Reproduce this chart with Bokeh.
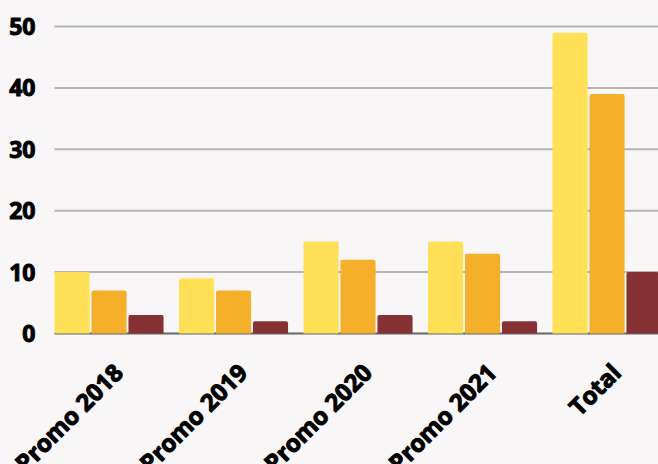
from math import pi
import numpy as np
from bokeh.plotting import figure
from bokeh.models import ColumnDataSource, Range1d
from bokeh.core.properties import value
from bokeh.embed import file_html
from bokeh.resources import INLINE

categories = ["Promo 2018", "Promo 2019", "Promo 2020", "Promo 2021", "Total"]
series_a = [10, 9, 15, 15, 49]
series_b = [7, 7, 12, 13, 39]
series_c = [3, 2, 3, 2, 10]
y_ticks = [0, 10, 20, 30, 40, 50]

BG = "#f8f6f7"
FONT = "Open Sans"
colors = ["#ffe056", "#f5b02b", "#863234"]

# layout constants (units: one category = 1)
BAR_W = 0.282
OFFS = [-0.297, 0.0, 0.297]
centers = np.arange(len(categories)) + 0.5
chart_left = centers[0] + OFFS[0] - BAR_W / 2      # where grid lines start
PX_PER_X = 124.5
PX_PER_Y = 6.14
W, H = 658, 464
LEFT_PX, TOP_PX = 54, 26
x_start = chart_left - LEFT_PX / PX_PER_X
x_end = x_start + W / PX_PER_X
y_end = y_ticks[-1] + TOP_PX / PX_PER_Y
y_start = y_end - H / PX_PER_Y

p = figure(
    x_range=Range1d(x_start, x_end), y_range=Range1d(y_start, y_end),
    width=W, height=H,
    output_backend="svg", toolbar_location=None,
    background_fill_color=BG, border_fill_color=BG,
    min_border=0, outline_line_color=None,
)
p.axis.visible = False
p.grid.visible = False

# grid lines
grid = ColumnDataSource(dict(y=y_ticks, label=[str(t) for t in y_ticks],
                             x0=[chart_left] * len(y_ticks), x1=[x_end] * len(y_ticks),
                             color=["#666666"] + ["#b4b4b4"] * (len(y_ticks) - 1)))
p.segment(x0="x0", x1="x1", y0="y", y1="y", source=grid, line_color="color", line_width=2)

# bars
source = ColumnDataSource(dict(cat=categories, x=centers, a=series_a, b=series_b, c=series_c,
                               base=[0] * len(categories)))
for key, off, col in zip(["a", "b", "c"], OFFS, colors):
    src = ColumnDataSource(dict(x=centers + off, top=source.data[key]))
    p.vbar(x="x", top="top", width=BAR_W, source=src,
           fill_color=col, line_color=None, border_radius=(2, 2, 0, 0))

# y tick labels
p.text(x="x0", y="y", text="label", source=grid, text_align="right", text_baseline="middle",
       x_offset=-19, text_font=value(FONT), text_font_style="bold",
       text_font_size="23px", text_color="#000000", text_outline_color="#000000")

# x category labels
p.text(x="x", y="base", text="cat", source=source,
       angle=pi / 4, text_align="right", text_baseline="middle",
       x_offset=9, y_offset=34,
       text_font=value(FONT), text_font_style="bold",
       text_font_size="24px", text_color="#000000", text_outline_color="#000000")

html = file_html(p, INLINE)
html = html.replace("<head>", "<head><style>html,body{background:#f8f6f7;}</style>", 1)
open("out.html", "w").write(html)
